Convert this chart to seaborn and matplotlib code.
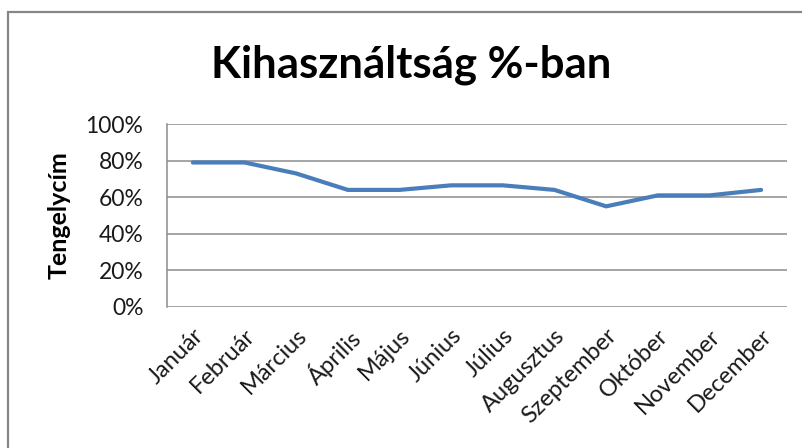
import matplotlib.pyplot as plt
import matplotlib.patches as patches
import numpy as np
import seaborn as sns
import pandas as pd

# data
months = ["Január", "Február", "Március", "Április", "Május", "Június",
          "Július", "Augusztus", "Szeptember", "Október", "November", "December"]
usage = [79, 79, 73, 64, 64, 66.5, 66.5, 64, 55, 61, 61, 64]
yticks = [0, 20, 40, 60, 80, 100]

sns.set_theme(style="white")
plt.rcParams['font.family'] = ['Lato', 'DejaVu Sans']

fig = plt.figure(figsize=(8.03, 4.48), dpi=100)
ax = fig.add_axes([0.208, 0.315, 0.772, 0.408])

df = pd.DataFrame({"month": months, "usage": usage})
df["pos"] = np.arange(len(months))
sns.lineplot(x="pos", y="usage", data=df, ax=ax, color="#4A7EBB", linewidth=3)

ax.set_xlim(-0.5, len(months) - 0.5)
ax.set_ylim(0, 100)
ax.set_yticks(yticks)
ax.set_yticklabels([f"{v}%" for v in yticks], fontsize=16.5, color="#1a1a1a")
ax.set_xticks(df["pos"])
ax.set_xticklabels(months, rotation=45, ha="right", rotation_mode="anchor",
                   fontsize=17, color="#1a1a1a")
ax.tick_params(axis="y", length=0, pad=17)
ax.tick_params(axis="x", length=0, pad=13)

ax.yaxis.grid(True, color="#8C8C8C", linewidth=1.1)
ax.set_axisbelow(True)
for side in ["top", "right", "bottom"]:
    ax.spines[side].set_visible(False)
ax.spines["left"].set_color("#8C8C8C")
ax.spines["left"].set_linewidth(1.1)

ax.set_xlabel("")
ax.set_ylabel("Tengelycím", fontsize=18, fontweight="bold", color="black")
ax.yaxis.set_label_coords(-0.155, 0.5)

fig.text(0.512, 0.855, "Kihasználtság %-ban", ha="center", va="center",
         fontsize=31.5, fontweight="bold", color="black")

# outer chart frame (only top and left edges fall inside the image)
frame = patches.Rectangle((8 / 803, -0.1), 1.2, 1 - 12 / 448 + 0.1,
                          transform=fig.transFigure, fill=False,
                          edgecolor="#868686", linewidth=1.6)
fig.patches.append(frame)

plt.savefig("out.png", dpi=100)
